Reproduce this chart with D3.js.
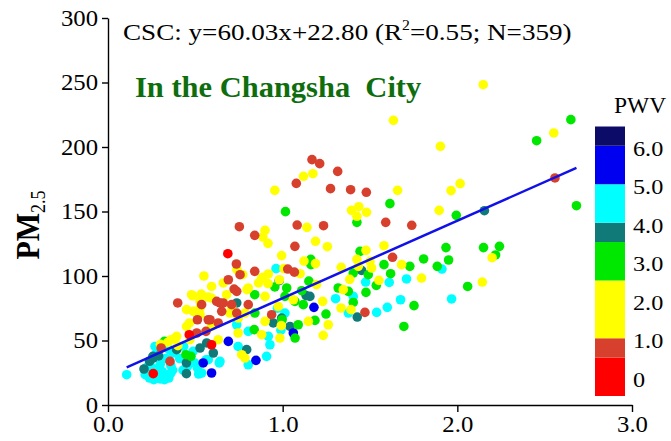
<!DOCTYPE html>
<html>
<head>
<meta charset="utf-8">
<script src="https://cdn.jsdelivr.net/npm/d3@7"></script>
<style>
  body { margin: 0; background: #fff; }
  svg { display: block; }
  text { font-family: "Liberation Serif", "Times New Roman", serif; }
</style>
</head>
<body>
<svg id="chart" width="671" height="441"></svg>
<script>
// ---- data: AOD (x) and PM2.5 (y) per PWV colour class ----
const cyanAOD = [1.912,0.962,1.475,1.610,1.709,1.967,1.675,1.599,1.538,1.376,1.404,1.303,1.013,0.97,0.737,0.803,0.918,0.927,0.574,0.641,0.745,0.803,0.908,0.99,0.269,0.240,0.107,0.496,0.536,0.213,0.238,0.262,0.299,0.323,0.348,0.360,0.360,0.299,0.267,0.311,0.372,0.433,0.487,0.512,0.519,0.563,0.28,0.31,0.33,0.22,0.25,0.33,0.37,0.41,0.43,0.35,0.28,0.637,0.455];
const cyanPM  = [105.4,105.7,95.3,95.0,97.7,82.2,81.6,75.7,71.8,71.3,84.2,82.4,71.3,75,62.2,57.1,53.2,46.7,35.1,33.8,45.4,31.2,37.7,58,45.4,31.2,23.5,32.6,24.8,23.5,20.9,19.6,20.2,19.6,20.9,24.8,30.5,31.3,27.4,45.5,40.3,45.5,41.6,28.7,24.0,35.1,22,26,23,29,29,36,27,36,27,43,41,32.6,30];

const tealAOD = [2.155,0.980,1.134,1.452,1.427,1.156,0.737,0.946,0.994,1.042,0.603,0.794,0.565,0.393,0.259,0.206,0.449,0.449,0.238,0.257,0.527,0.29];
const tealPM  = [150.6,96.4,84.8,104.3,68.2,84.2,79.1,63.6,67.4,60.9,40.3,42.9,48.1,42.9,36.4,27.9,32.6,24.3,33.9,37.7,44.2,38];

const blueAOD = [1.179,1.061,0.689,0.847,0.593,0.545];
const bluePM  = [75.7,55.8,49.3,34.6,24.8,32.6];

const greenAOD = [2.650,2.454,1.614,2.682,1.016,1.994,1.425,1.935,2.150,2.241,2.219,1.161,1.443,1.807,1.950,1.728,1.885,1.580,0.955,0.840,1.109,1.490,1.477,1.536,2.059,1.752,1.694,1.404,1.318,1.376,1.248,1.185,1.404,1.162,1.618,1.013,1.118,0.841,1.089,0.837,1.071,1.023,0.323,0.475,0.446,0.997,1.15,1.070];
const greenPM  = [221.2,204.9,156.1,154.5,149.9,147.0,141.6,122.0,122.0,123.0,116.3,112.9,119.1,113.2,112.4,107.5,107.5,108.8,91.5,85.5,88.6,101.0,87.3,92.7,91.9,77.0,60.9,79.5,90.7,88.1,70.5,65.6,102.3,108.8,101.8,84.2,77.8,71.3,62.2,58.4,51.9,90.7,49.3,37.7,39.0,66.1,96,80.3];

const yellowAOD = [2.148,1.634,2.552,1.903,1.173,1.119,2.016,1.964,0.955,1.658,1.394,1.436,1.480,1.896,1.425,1.139,0.899,0.887,0.916,1.188,1.256,1.580,2.199,0.994,1.122,1.188,1.425,1.477,1.681,0.738,0.771,0.549,1.100,1.007,0.918,0.887,0.916,0.862,0.593,0.660,0.796,0.478,0.534,0.573,1.335,1.384,1.509,1.795,1.551,2.143,1.334,1.391,1.347,1.229,1.261,1.232,1.194,1.500,0.899,1.061,0.975,0.698,0.784,0.899,1.147,0.593,0.745,0.880,0.984,0.631,0.765,0.784,0.803,0.880,0.981,0.485,0.527,0.593,0.679,0.450,0.488,0.527,0.527,0.466,0.450,0.708,0.746,0.469,0.384,0.393,0.342,0.360,1.433,0.992,0.30,0.40];
const yellowPM  = [248.3,220.7,210.9,200.5,179.3,177.3,171.6,166.2,166.4,166.4,150.9,153.7,149.4,150.9,146.3,137.7,135.4,130.2,125.3,126.9,122.7,123.5,114.2,115.8,111.6,109.6,112.9,119.9,108.8,105.0,101.0,100.0,101.8,105.7,101.6,99.0,94.1,94.6,91.9,94.6,89.4,85.5,86.0,83.7,106.7,97.4,106.2,98.4,96.6,95.3,75.2,73.9,89.4,80.3,62.2,54.0,93.3,111.3,84.2,81.6,76.4,71.3,71.3,64.8,64.8,60.9,55.8,54.5,51.9,50.6,39.0,36.4,90.7,98.4,97.1,84.7,80.3,82.9,85.5,73.9,72.6,75.2,70.0,63.6,60.9,76.0,67.4,50.6,51.9,53.2,48.5,50.6,107.5,61.5,47,46];

const orangeAOD = [1.168,1.212,1.315,1.078,1.274,1.389,1.479,2.559,0.752,1.083,1.234,1.590,1.739,0.840,1.070,1.629,0.735,0.840,1.029,1.067,0.722,1.471,0.737,0.641,0.708,0.803,0.651,0.737,0.937,0.574,0.631,0.689,0.399,0.622,0.660,0.512,0.584,0.561,0.508,0.536,0.304,0.355,0.756];
const orangePM  = [190.2,187.1,181.1,171.8,167.7,166.9,164.9,176.0,138.2,139.5,139.0,141.6,139.3,131.5,123.0,114.5,109.3,103.6,105.4,103.0,89.9,71.8,88.1,79.1,77.8,77.8,72.6,71.3,70.0,66.1,63.6,97.1,79.1,80.3,79.1,66.1,66.1,57.1,55.8,77.8,44.2,33.8,101.0];

const redAOD = [0.686,0.465,0.593,0.259];
const redPM  = [117.3,54.5,46.7,24.3];

// PWV value assigned to each class, drawn in this order
const seriesPWV = [4.5, 3.8, 5.5, 3.0, 1.8, 0.8, 0.2];
const seriesAOD = [cyanAOD, tealAOD, blueAOD, greenAOD, yellowAOD, orangeAOD, redAOD];
const seriesPM  = [cyanPM, tealPM, bluePM, greenPM, yellowPM, orangePM, redPM];

// colour bar
const pwvBreaks = [0.5, 1.0, 2.5, 3.5, 4.0, 5.0, 6.0];
const pwvColors = ["#ff0000", "#d8402e", "#ffff00", "#00e800", "#0f7a78", "#00ffff", "#0000f0", "#0c0c68"];
const pwvTickValues = [0, 1, 2, 3, 4, 5, 6];
const pwvTickLabels = ["0", "1.0", "2.0", "3.0", "4.0", "5.0", "6.0"];

// axes
const xMajorTicks = [0, 1, 2, 3];
const yMajorTicks = [0, 50, 100, 150, 200, 250, 300];

// linear fit
const fitSlope = 60.03, fitIntercept = 22.80, fitR2 = "0.55", fitN = 359;

// ---- drawing ----
const svg = d3.select("#chart");

const x = d3.scaleLinear().domain([0, 3]).range([108, 632]);
const y = d3.scaleLinear().domain([0, 300]).range([405, 18]);
const color = d3.scaleThreshold().domain(pwvBreaks).range(pwvColors);

// points
const pts = [];
seriesAOD.forEach((xs, i) => xs.forEach((v, j) => pts.push({ x: v, y: seriesPM[i][j], pwv: seriesPWV[i] })));

svg.append("g").selectAll("circle").data(pts).join("circle")
  .attr("cx", d => x(d.x)).attr("cy", d => y(d.y)).attr("r", 4.8)
  .attr("fill", d => color(d.pwv));

// regression line across the AOD range
const [x0, x1] = d3.extent(pts, d => d.x);
svg.append("line")
  .attr("x1", x(x0)).attr("y1", y(fitSlope * x0 + fitIntercept))
  .attr("x2", x(x1)).attr("y2", y(fitSlope * x1 + fitIntercept))
  .attr("stroke", "#1010e8").attr("stroke-width", 2.5);

// x axis (major + minor)
const gx = svg.append("g").attr("transform", "translate(0,405)");
gx.call(d3.axisBottom(x).tickValues(d3.range(0, 3.001, 0.2)).tickSize(5).tickFormat("").tickSizeOuter(0));
gx.call(d3.axisBottom(x).tickValues(xMajorTicks).tickSize(7).tickPadding(4).tickFormat(d3.format(".1f")).tickSizeOuter(0));

// y axis (major + minor)
const gy = svg.append("g").attr("transform", "translate(108,0)");
gy.call(d3.axisLeft(y).tickValues(d3.range(0, 301, 10)).tickSize(3.5).tickFormat("").tickSizeOuter(0));
gy.call(d3.axisLeft(y).tickValues(yMajorTicks).tickSize(6).tickPadding(3).tickFormat(d3.format("d")).tickSizeOuter(0));

svg.selectAll(".domain, .tick line").attr("stroke", "#000").attr("stroke-width", 1.4);
svg.selectAll(".tick text").attr("font-size", 22.5).attr("fill", "#000")
  .attr("font-family", "Liberation Serif, serif").attr("transform", "scale(1.1,1)");

// y axis title
const yl = svg.append("text")
  .attr("transform", "translate(39,225) scale(1.12,1) rotate(-90)")
  .attr("text-anchor", "middle").attr("font-weight", "bold").attr("font-size", 30);
yl.append("tspan").text("PM");
yl.append("tspan").attr("font-size", 18).attr("font-weight", "normal").attr("dy", 5).text("2.5");

// equation
const eq = svg.append("text").attr("transform", "translate(123,40) scale(1.13,1)").attr("font-size", 24);
eq.append("tspan").text(`CSC: y=${fitSlope.toFixed(2)}x+${fitIntercept.toFixed(2)} (R`);
eq.append("tspan").attr("font-size", 14).attr("dy", -10).text("2");
eq.append("tspan").attr("dy", 10).text(`=${fitR2}; N=${fitN})`);

// location caption
svg.append("text").attr("transform", "translate(135,97) scale(1.07,1)")
  .attr("font-size", 28.5).attr("font-weight", "bold").attr("fill", "#0e6e0e")
  .attr("xml:space", "preserve").text("In the Changsha  City");

// colour bar
const cb = d3.scaleLinear().domain([-0.5, 6.5]).range([396, 126.5]);
const cbEdges = [-0.5, ...pwvBreaks, 6.5];
svg.append("g").selectAll("rect").data(pwvColors).join("rect")
  .attr("x", 595).attr("width", 30)
  .attr("y", (c, i) => cb(cbEdges[i + 1]))
  .attr("height", (c, i) => cb(cbEdges[i]) - cb(cbEdges[i + 1]))
  .attr("fill", c => c);

svg.append("g").selectAll("text").data(pwvTickValues).join("text")
  .attr("transform", v => `translate(633,${cb(v) + 10}) scale(1.1,1)`)
  .attr("font-size", 22).text((v, i) => pwvTickLabels[i]);

svg.append("text").attr("transform", "translate(614,113) scale(1.02,1)")
  .attr("font-size", 23).text("PWV");
</script>
</body>
</html>
